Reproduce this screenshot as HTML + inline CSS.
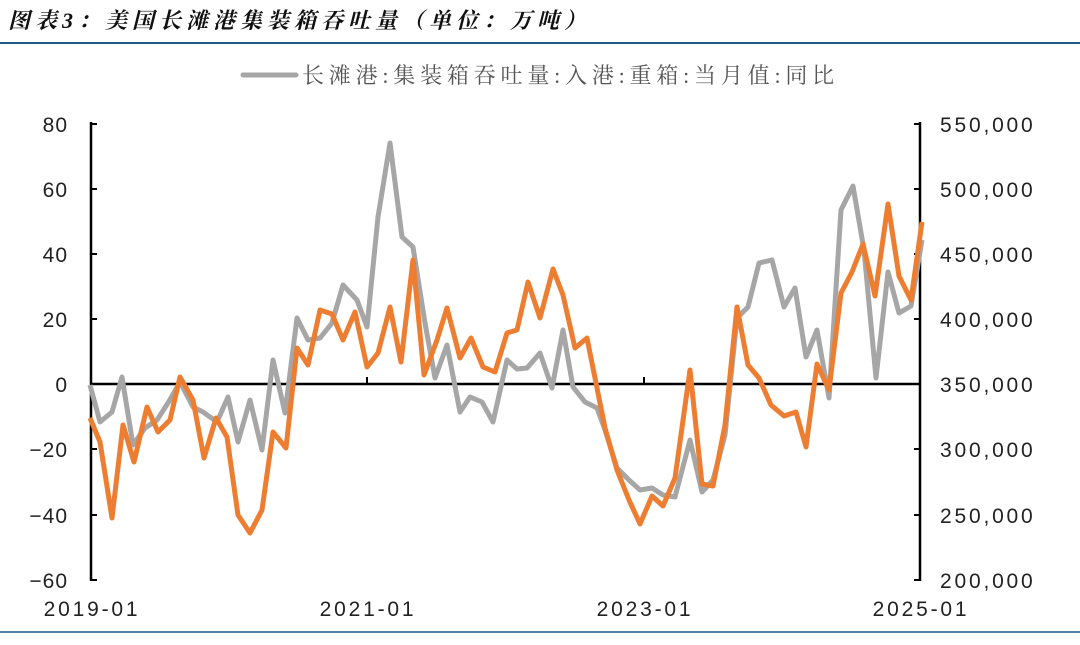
<!DOCTYPE html>
<html><head><meta charset="utf-8"><style>
html,body{margin:0;padding:0;background:#fff;}
svg{display:block;}
</style></head><body>
<svg width="1080" height="645" xmlns="http://www.w3.org/2000/svg" font-family="Liberation Sans, Noto Sans CJK SC, sans-serif">
<text x="8" y="28" font-size="22" font-weight="bold" font-style="italic" fill="#111" letter-spacing="5" font-family="Liberation Serif, Noto Serif CJK SC, serif">图表3：美国长滩港集装箱吞吐量（单位：万吨）</text>
<line x1="0" y1="43" x2="1080" y2="43" stroke="#1f5a85" stroke-width="2"/>
<line x1="0" y1="632" x2="1080" y2="632" stroke="#1f5a85" stroke-width="1.5"/>
<line x1="243" y1="75" x2="296" y2="75" stroke="#a6a6a6" stroke-width="5" stroke-linecap="round"/>
<text x="302" y="83" font-size="22" fill="#555" letter-spacing="4.8" font-family="Liberation Serif, Noto Serif CJK SC, serif">长滩港:集装箱吞吐量:入港:重箱:当月值:同比</text>
<g stroke="#000" stroke-width="2.5" fill="none">
<line x1="91" y1="122" x2="91" y2="581"/>
<line x1="920" y1="122" x2="920" y2="581"/>
<line x1="91" y1="384" x2="920" y2="384"/>
</g>
<g stroke="#000" stroke-width="2">
<line x1="91" y1="124" x2="97" y2="124"/><line x1="91" y1="189" x2="97" y2="189"/><line x1="91" y1="254" x2="97" y2="254"/><line x1="91" y1="319" x2="97" y2="319"/><line x1="91" y1="449" x2="97" y2="449"/><line x1="91" y1="515" x2="97" y2="515"/><line x1="91" y1="580" x2="97" y2="580"/>
<line x1="914" y1="124" x2="920" y2="124"/><line x1="914" y1="189" x2="920" y2="189"/><line x1="914" y1="254" x2="920" y2="254"/><line x1="914" y1="319" x2="920" y2="319"/><line x1="914" y1="449" x2="920" y2="449"/><line x1="914" y1="515" x2="920" y2="515"/><line x1="914" y1="580" x2="920" y2="580"/>
<line x1="367" y1="377" x2="367" y2="384"/><line x1="644" y1="377" x2="644" y2="384"/>
</g>
<g font-size="21" fill="#222" text-anchor="end" letter-spacing="1">
<text x="68" y="132">80</text><text x="68" y="197">60</text><text x="68" y="262">40</text><text x="68" y="327">20</text><text x="68" y="392">0</text><text x="68" y="457">−20</text><text x="68" y="523">−40</text><text x="68" y="588">−60</text>
</g>
<g font-size="21" fill="#222" text-anchor="start" letter-spacing="2.8">
<text x="940" y="132">550,000</text><text x="940" y="197">500,000</text><text x="940" y="262">450,000</text><text x="940" y="327">400,000</text><text x="940" y="392">350,000</text><text x="940" y="457">300,000</text><text x="940" y="523">250,000</text><text x="940" y="588">200,000</text>
</g>
<g font-size="21" fill="#222" text-anchor="middle" letter-spacing="2.8">
<text x="92" y="616">2019-01</text><text x="368" y="616">2021-01</text><text x="645" y="616">2023-01</text><text x="921" y="616">2025-01</text>
</g>
<polyline fill="none" stroke="#a6a6a6" stroke-width="5" stroke-linejoin="round" points="90,385 100,422 112,412 122,377 133,445 145,428 157,420 168,403 180,382 193,407 203,412 217,422 228,397 238,442 250,400 262,450 273,360 285,413 297,318 308,340 320,338 332,323 343,285 357,300 367,327 378,217 390,143 402,237 413,247 425,323 435,378 447,345 460,412 470,397 482,402 493,422 507,360 517,369 527,368 540,353 552,388 563,330 573,387 585,402 597,408 605,430 617,468 629,480 640,490 652,488 663,495 675,497 690,440 702,492 713,480 725,435 737,318 748,307 759,263 772,260 784,307 795,288 806,357 817,330 829,398 841,210 853,186 864,250 876,378 888,272 899,313 911,306 922,240"/>
<polyline fill="none" stroke="#ed7d31" stroke-width="5" stroke-linejoin="round" points="90,418 100,442 112,518 123,425 134,462 147,407 158,432 170,420 180,377 193,400 204,458 216,418 227,437 238,515 250,533 262,510 273,432 286,448 297,348 308,365 320,310 332,314 343,340 355,312 367,367 378,353 390,307 401,362 413,260 424,375 437,340 447,308 460,358 471,338 483,367 495,372 507,333 517,330 528,282 540,318 553,269 563,295 575,348 587,338 605,428 617,470 629,500 640,524 652,496 663,506 675,478 690,370 702,484 713,486 725,425 737,307 748,365 759,378 771,405 784,416 796,412 806,447 817,364 829,390 841,293 852,272 863,244 875,296 888,204 899,276 911,300 922,222"/>
</svg>
</body></html>
